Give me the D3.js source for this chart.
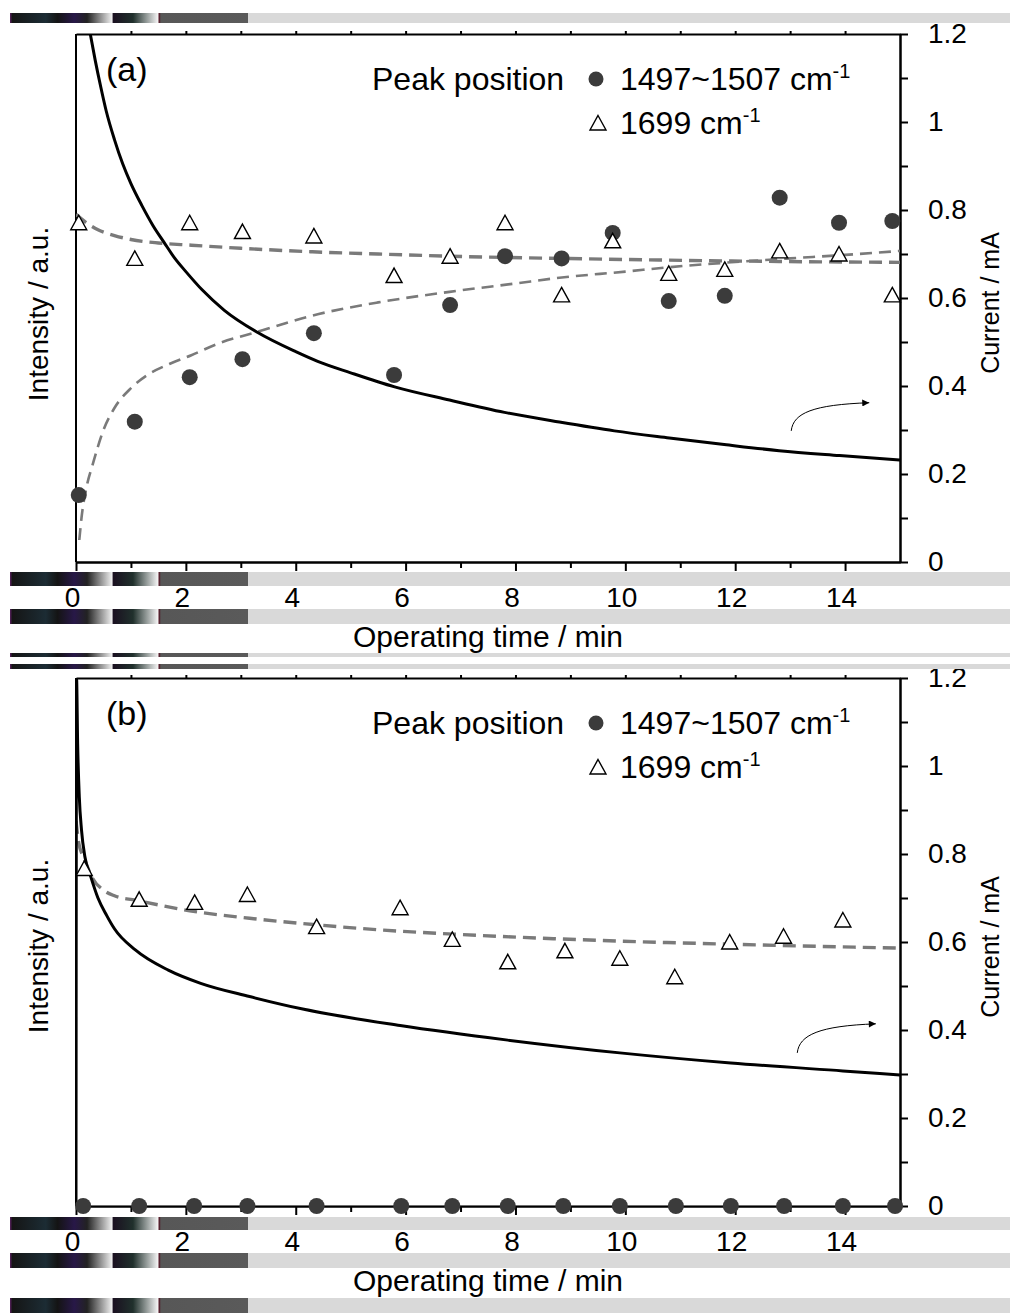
<!DOCTYPE html>
<html>
<head>
<meta charset="utf-8">
<script src="https://cdn.jsdelivr.net/npm/d3@7"></script>
<style>
body { margin: 0; background: #fff; }
text { font-family: "Liberation Sans", Arial, sans-serif; fill: #000; }
</style>
</head>
<body>
<div id="chart"></div>
<script>
// Tick values
const timeTicks = [0, 2, 4, 6, 8, 10, 12, 14];
const timeMinor = [1, 3, 5, 7, 9, 11, 13];
const timeTop = [1, 2, 3, 4, 5, 6, 7, 8, 9, 10, 11, 12, 13, 14];
const currentTicks = [0, 0.2, 0.4, 0.6, 0.8, 1, 1.2];
const currentMinor = [0.1, 0.3, 0.5, 0.7, 0.9, 1.1];

// Legend text
const legendTitle = "Peak position";
const legendBands = ["1497~1507 cm", "1699 cm"];

// Panel (a): [time (min), value]
const peak1500A = [[0.05, 0.152], [1.07, 0.319], [2.07, 0.42], [3.03, 0.461], [4.33, 0.52], [5.79, 0.425],
  [6.81, 0.584], [7.81, 0.695], [8.84, 0.69], [9.77, 0.748], [10.79, 0.593], [11.81, 0.605],
  [12.81, 0.828], [13.89, 0.771], [14.86, 0.775]];
const peak1699A = [[0.05, 0.771], [1.07, 0.69], [2.07, 0.771], [3.03, 0.751], [4.33, 0.741], [5.79, 0.651],
  [6.81, 0.695], [7.81, 0.771], [8.84, 0.607], [9.77, 0.73], [10.79, 0.656], [11.81, 0.665],
  [12.81, 0.707], [13.89, 0.70], [14.86, 0.607]];
const fit1500A = [[0.06, 0.05], [0.1, 0.10], [0.2, 0.175], [0.3, 0.22], [0.5, 0.30], [0.7, 0.35], [1.0, 0.395],
  [1.3, 0.425], [1.7, 0.45], [2.1, 0.47], [2.6, 0.497], [3.3, 0.523], [4.3, 0.56], [5.5, 0.59],
  [6.8, 0.614], [8.0, 0.633], [8.8, 0.646], [10.0, 0.66], [10.8, 0.67], [11.8, 0.68], [13.0, 0.69],
  [14.0, 0.698], [15, 0.707]];
const fit1699A = [[0, 0.79], [0.2, 0.77], [0.4, 0.755], [0.7, 0.742], [1.0, 0.733], [1.5, 0.725], [2.1, 0.72],
  [3, 0.713], [4.3, 0.705], [5.5, 0.70], [6.8, 0.695], [8.8, 0.69], [10.8, 0.686], [12.8, 0.683], [15, 0.681]];
const currentA = [[0.26, 1.2], [0.35, 1.14], [0.45, 1.08], [0.55, 1.025], [0.7, 0.96], [0.85, 0.905],
  [1.0, 0.86], [1.2, 0.81], [1.4, 0.765], [1.6, 0.727], [1.8, 0.69], [2.0, 0.66], [2.3, 0.618],
  [2.7, 0.572], [3.3, 0.522], [4.0, 0.478], [4.4, 0.456], [5.0, 0.43], [5.8, 0.398], [6.8, 0.368],
  [7.8, 0.34], [8.8, 0.318], [9.8, 0.298], [10.8, 0.282], [11.8, 0.267], [12.8, 0.253], [13.9, 0.242],
  [15, 0.232]];

// Panel (b)
const peak1500B = [[0.13, 0], [1.15, 0], [2.15, 0], [3.12, 0], [4.38, 0], [5.92, 0], [6.85, 0], [7.86, 0],
  [8.87, 0], [9.9, 0], [10.92, 0], [11.92, 0], [12.89, 0], [13.96, 0], [14.91, 0]];
const peak1699B = [[0.15, 0.767], [1.15, 0.697], [2.16, 0.69], [3.12, 0.708], [4.38, 0.635], [5.9, 0.678],
  [6.85, 0.606], [7.86, 0.555], [8.9, 0.58], [9.9, 0.563], [10.9, 0.521], [11.9, 0.6], [12.88, 0.613],
  [13.96, 0.65]];
const fit1500B = [[0, 0], [15, 0]];
const fit1699B = [[0, 0.875], [0.05, 0.825], [0.15, 0.79], [0.3, 0.745], [0.5, 0.718], [0.7, 0.705],
  [1.08, 0.695], [2.17, 0.669], [3.16, 0.654], [4.38, 0.639], [5.6, 0.627], [6.85, 0.618],
  [8.6, 0.608], [9.9, 0.602], [11.9, 0.595], [15, 0.586]];
const currentB = [[0, 0], [0.01, 1.2], [0.03, 1.05], [0.06, 0.93], [0.1, 0.855], [0.16, 0.795], [0.27, 0.748],
  [0.4, 0.70], [0.56, 0.66], [0.7, 0.63], [1.08, 0.582], [1.68, 0.536], [2.27, 0.506], [3.16, 0.476],
  [4.15, 0.447], [5.9, 0.41], [7.86, 0.377], [9.9, 0.348], [11.92, 0.325], [13.96, 0.307], [15, 0.298]];

// Arrow pointing to the current axis: [start, end] in data units
const arrowA = [[13.02, 0.298], [14.44, 0.362]];
const arrowB = [[13.13, 0.348], [14.56, 0.414]];

let width = 1010, height = 1313;
let left = 76, right = 900;

let svg = d3.select("#chart")
  .append("svg")
    .attr("width", width)
    .attr("height", height);

let defs = svg.append("defs");
defs.append("marker")
    .attr("id", "head")
    .attr("viewBox", "0 0 10 10")
    .attr("refX", 10).attr("refY", 5)
    .attr("markerWidth", 9).attr("markerHeight", 7)
    .attr("markerUnits", "userSpaceOnUse")
    .attr("orient", "auto")
  .append("path")
    .attr("d", "M0,0L10,5L0,10Z")
    .attr("fill", "#000");

let x = d3.scaleLinear().domain([0, 15]).range([left, right]);

let line = d3.line().x(d => x(d[0])).curve(d3.curveMonotoneX);

let triangle = "M0,-7.5L8,7L-8,7Z";
let font = "'Liberation Sans', Arial, sans-serif";

let drawPanel = (p) => {
  let y = d3.scaleLinear().domain([0, 1.2]).range([p.bottom, p.top]);
  let g = svg.append("g");
  line.y(d => y(d[1]));

  defs.append("clipPath").attr("id", "clip-" + p.id)
    .append("rect")
      .attr("x", left).attr("y", p.top)
      .attr("width", right - left).attr("height", p.bottom - p.top);

  // Axes
  g.append("g").attr("transform", `translate(0,${p.bottom})`)
    .call(d3.axisBottom(x).tickValues(timeMinor).tickSize(6).tickSizeOuter(0).tickFormat(""));
  let bottomMajor = g.append("g").attr("transform", `translate(0,${p.bottom})`)
    .call(d3.axisBottom(x).tickValues(timeTicks).tickSize(9).tickSizeOuter(0));
  bottomMajor.selectAll("text")
      .attr("y", 45).attr("dy", null).attr("dx", -4)
      .style("font-size", "28px").style("font-family", font);
  g.append("g").attr("transform", `translate(0,${p.top})`)
    .call(d3.axisTop(x).tickValues(timeTop).tickSize(3).tickSizeOuter(0).tickFormat(""));
  g.append("g").attr("transform", `translate(${right},0)`)
    .call(d3.axisRight(y).tickValues(currentMinor).tickSize(8).tickSizeOuter(0).tickFormat(""));
  let rightAxis = g.append("g").attr("transform", `translate(${right},0)`)
    .call(d3.axisRight(y).tickValues(currentTicks).tickSize(8).tickSizeOuter(0).tickPadding(20)
      .tickFormat(d => String(+d.toFixed(1))));
  rightAxis.selectAll("text")
      .style("font-size", "28px").style("font-family", font);
  g.selectAll(".domain").attr("stroke-width", 2);
  g.selectAll(".tick line").attr("stroke-width", 2);
  g.append("line")
      .attr("x1", left).attr("x2", left)
      .attr("y1", p.top).attr("y2", p.bottom)
      .attr("stroke", "#000").attr("stroke-width", 2);

  // Axis titles
  g.append("text")
      .attr("transform", `translate(${(left + right) / 2},${p.bottom + 85})`)
      .attr("text-anchor", "middle")
      .style("font-size", "30px")
      .text("Operating time / min");
  g.append("text")
      .attr("transform", `translate(48,${p.leftTitleY}) rotate(-90)`)
      .attr("text-anchor", "middle")
      .style("font-size", "28px")
      .text("Intensity / a.u.");
  g.append("text")
      .attr("transform", `translate(999,${p.rightTitleY}) rotate(-90)`)
      .attr("text-anchor", "middle")
      .style("font-size", "25px")
      .text("Current / mA");

  // Markers
  let marks = g.append("g").attr("clip-path", `url(#clip-${p.id})`);
  let plain = g.append("g");
  plain.selectAll(".c").data(p.circles).join("circle")
      .attr("cx", d => x(d[0])).attr("cy", d => y(d[1])).attr("r", 8)
      .attr("fill", "#3b3b3b");
  plain.selectAll(".t").data(p.triangles).join("path")
      .attr("d", triangle)
      .attr("transform", d => `translate(${x(d[0])},${y(d[1])})`)
      .attr("fill", "#fff").attr("stroke", "#000").attr("stroke-width", 1.4);

  // Fits
  p.fits.forEach(f => {
    marks.append("path")
        .attr("d", line(f.data))
        .attr("fill", "none")
        .attr("stroke", f.color)
        .attr("stroke-width", f.w)
        .attr("stroke-dasharray", f.dash);
  });

  // Current
  marks.append("path")
      .attr("d", line(p.current))
      .attr("fill", "none")
      .attr("stroke", "#000")
      .attr("stroke-width", 3);

  // Arrow
  let a0 = [x(p.arrow[0][0]), y(p.arrow[0][1])];
  let a1 = [x(p.arrow[1][0]), y(p.arrow[1][1])];
  g.append("path")
      .attr("d", `M${a0}C${a0[0] + 2},${a0[1] - 18} ${a0[0] + 22},${a1[1] + 2} ${a1}`)
      .attr("fill", "none").attr("stroke", "#000").attr("stroke-width", 1)
      .attr("marker-end", "url(#head)");

  // Panel label
  g.append("text")
      .attr("x", 106).attr("y", p.top + 47)
      .style("font-size", "34px")
      .text(p.label);

  // Legend
  let lg = g.append("g").attr("transform", `translate(0,${p.top + 56})`);
  lg.append("text").attr("x", 372).attr("y", 0).style("font-size", "32px").text(legendTitle);
  lg.append("circle").attr("cx", 596).attr("cy", -11).attr("r", 7.5).attr("fill", "#3b3b3b");
  lg.append("path").attr("d", triangle)
      .attr("transform", "translate(598,33)")
      .attr("fill", "#fff").attr("stroke", "#000").attr("stroke-width", 1.4);
  legendBands.forEach((b, i) => {
    let t = lg.append("text").attr("x", 620).attr("y", i * 44).style("font-size", "32px").text(b);
    t.append("tspan").attr("dy", -12).style("font-size", "20px").text("-1");
  });
};

let panels = [
  { id: "a", label: "(a)", top: 34, bottom: 562, leftTitleY: 314, rightTitleY: 303,
    circles: peak1500A, triangles: peak1699A, current: currentA, arrow: arrowA,
    fits: [{ data: fit1500A, color: "#7a7a7a", w: 2.6, dash: "12,7" },
           { data: fit1699A, color: "#7a7a7a", w: 3.4, dash: "13,7" }] },
  { id: "b", label: "(b)", top: 678, bottom: 1206, leftTitleY: 946, rightTitleY: 947,
    circles: peak1500B, triangles: peak1699B, current: currentB, arrow: arrowB,
    fits: [{ data: fit1699B, color: "#7a7a7a", w: 3.4, dash: "13,7" },
           { data: fit1500B, color: "#9a9a9a", w: 1, dash: null }] }
];

panels.forEach(drawPanel);

// Banding strips across the picture
let grad = defs.append("linearGradient")
    .attr("id", "strip")
    .attr("gradientUnits", "userSpaceOnUse")
    .attr("x1", 10).attr("x2", 248).attr("y1", 0).attr("y2", 0);
[[0, "#5a2060"], [0.01, "#151515"], [0.15, "#1c2c34"], [0.2, "#141414"], [0.27, "#281848"], [0.324, "#222"],
 [0.429, "#f0f0f0"], [0.433, "#1a1020"], [0.517, "#20302c"], [0.622, "#f5f5f5"], [0.626, "#501020"],
 [0.634, "#575757"], [1, "#5a5a5a"]]
  .forEach(s => grad.append("stop").attr("offset", s[0]).attr("stop-color", s[1]));

let strips = [[13, 10], [572, 14], [609, 15], [653, 4], [664, 5], [1217, 13], [1253, 15], [1298, 15]];
let sg = svg.append("g");
strips.forEach(s => {
  sg.append("rect").attr("x", 10).attr("y", s[0]).attr("width", 238).attr("height", s[1]).attr("fill", "url(#strip)");
  sg.append("rect").attr("x", 248).attr("y", s[0]).attr("width", 762).attr("height", s[1]).attr("fill", "#d9d9d9");
});
</script>
</body>
</html>
